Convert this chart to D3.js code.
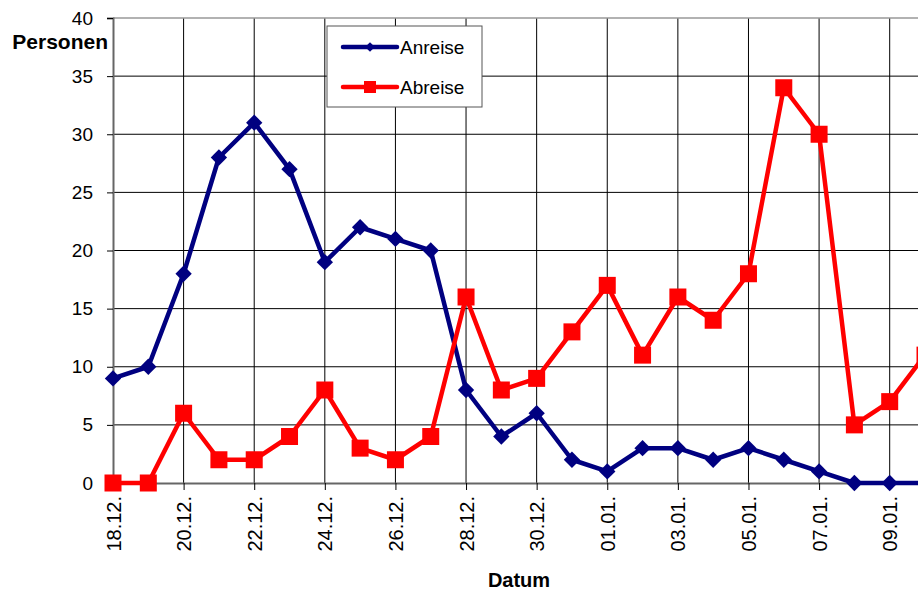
<!DOCTYPE html>
<html>
<head>
<meta charset="utf-8">
<script src="https://cdn.jsdelivr.net/npm/d3@7"></script>
<style>
  body { margin: 0; background: #fff; }
  svg { display: block; font-family: "Liberation Sans", Arial, sans-serif; }
</style>
</head>
<body>
<svg id="chart" width="918" height="592"></svg>
<script>
// data
var dates = ["18.12.", "19.12.", "20.12.", "21.12.", "22.12.", "23.12.", "24.12.", "25.12.",
             "26.12.", "27.12.", "28.12.", "29.12.", "30.12.", "31.12.", "01.01.", "02.01.",
             "03.01.", "04.01.", "05.01.", "06.01.", "07.01.", "08.01.", "09.01.", "10.01."];
var anreise = [9, 10, 18, 28, 31, 27, 19, 22, 21, 20, 8, 4, 6, 2, 1, 3, 3, 2, 3, 2, 1, 0, 0, 0];
var abreise = [0, 0, 6, 2, 2, 4, 8, 3, 2, 4, 16, 8, 9, 13, 17, 11, 16, 14, 18, 34, 30, 5, 7, 11];
var yTicks = [0, 5, 10, 15, 20, 25, 30, 35, 40];
var seriesNames = ["Anreise", "Abreise"];

var margin = {top: 18, left: 113},
    plotBottom = 483,
    plotRight = 925;

var svg = d3.select("#chart");

var x = d3.scaleLinear().domain([0, dates.length - 1]).range([margin.left, plotRight]);
var y = d3.scaleLinear().domain([0, 40]).range([plotBottom, margin.top]);

var labelIdx = dates.map(function(d, i) { return i; }).filter(function(i) { return i % 2 === 0; });

// grid
svg.append("g").selectAll("line.h")
  .data(yTicks.filter(function(t) { return t > 0 && t < 40; }))
  .enter().append("line")
  .attr("x1", margin.left).attr("x2", 918)
  .attr("y1", function(d) { return y(d); }).attr("y2", function(d) { return y(d); })
  .attr("stroke", "#000").attr("stroke-width", 1);

svg.append("g").selectAll("line.v")
  .data(labelIdx.filter(function(i) { return i > 0; }))
  .enter().append("line")
  .attr("x1", function(d) { return x(d); }).attr("x2", function(d) { return x(d); })
  .attr("y1", margin.top).attr("y2", plotBottom)
  .attr("stroke", "#000").attr("stroke-width", 1);

// top border
svg.append("line")
  .attr("x1", margin.left).attr("x2", 918)
  .attr("y1", margin.top).attr("y2", margin.top)
  .attr("stroke", "#999").attr("stroke-width", 1.5);

// y axis
var yAxis = d3.axisLeft(y).tickValues(yTicks).tickSize(6).tickPadding(14);
var gy = svg.append("g")
  .attr("transform", "translate(" + margin.left + ",0)")
  .call(yAxis);
gy.select(".domain").attr("stroke", "#666").attr("stroke-width", 2);
gy.selectAll(".tick line").attr("stroke", "#000");
gy.selectAll(".tick text").attr("font-size", "19px").attr("fill", "#000")
  .style("font-family", "Liberation Sans, Arial, sans-serif");

// x axis
var xAxis = d3.axisBottom(x).tickValues(labelIdx).tickSize(7)
  .tickFormat(function(i) { return dates[i]; });
var gx = svg.append("g")
  .attr("transform", "translate(0," + plotBottom + ")")
  .call(xAxis);
gx.select(".domain").attr("stroke", "#666").attr("stroke-width", 2);
gx.selectAll(".tick line").attr("stroke", "#000");
gx.selectAll(".tick text")
  .attr("font-size", "20px").attr("fill", "#000")
  .style("font-family", "Liberation Sans, Arial, sans-serif")
  .attr("transform", "rotate(-90)")
  .attr("x", -13).attr("y", 0).attr("dy", "0.35em")
  .style("text-anchor", "end");

// axis titles
svg.append("text")
  .attr("x", 108).attr("y", 49)
  .attr("text-anchor", "end")
  .attr("font-size", "21px").attr("font-weight", "bold")
  .text("Personen");

svg.append("text")
  .attr("x", 519).attr("y", 587)
  .attr("text-anchor", "middle")
  .attr("font-size", "20px").attr("font-weight", "bold")
  .text("Datum");

var line = d3.line()
  .x(function(d, i) { return x(i); })
  .y(function(d) { return y(d); });

// Anreise
svg.append("path")
  .datum(anreise)
  .attr("d", line)
  .attr("fill", "none").attr("stroke", "#000080").attr("stroke-width", 4.5)
  .attr("stroke-linejoin", "round");

var diamond = d3.symbol().type(d3.symbolDiamond2).size(170);
svg.append("g").selectAll("path")
  .data(anreise)
  .enter().append("path")
  .attr("d", diamond)
  .attr("transform", function(d, i) { return "translate(" + x(i) + "," + y(d) + ")"; })
  .attr("fill", "#000080");

// Abreise
svg.append("path")
  .datum(abreise)
  .attr("d", line)
  .attr("fill", "none").attr("stroke", "#ff0000").attr("stroke-width", 4.5)
  .attr("stroke-linejoin", "round");

svg.append("g").selectAll("rect")
  .data(abreise)
  .enter().append("rect")
  .attr("x", function(d, i) { return x(i) - 8.5; })
  .attr("y", function(d) { return y(d) - 8.5; })
  .attr("width", 17).attr("height", 17)
  .attr("fill", "#ff0000");

// legend
var legend = svg.append("g").attr("transform", "translate(327,26)");
legend.append("rect")
  .attr("width", 155).attr("height", 81)
  .attr("fill", "#fff").attr("stroke", "#555").attr("stroke-width", 1);

var legColors = ["#000080", "#ff0000"];
seriesNames.forEach(function(name, i) {
  var ly = 21 + i * 40;
  legend.append("line")
    .attr("x1", 16).attr("x2", 70).attr("y1", ly).attr("y2", ly)
    .attr("stroke", legColors[i]).attr("stroke-width", 4.5).attr("stroke-linecap", "round");
  if (i === 0) {
    legend.append("path")
      .attr("d", d3.symbol().type(d3.symbolDiamond2).size(60))
      .attr("transform", "translate(43," + ly + ")")
      .attr("fill", legColors[i]);
  } else {
    legend.append("rect")
      .attr("x", 37).attr("y", ly - 6).attr("width", 12).attr("height", 12)
      .attr("fill", legColors[i]);
  }
  legend.append("text")
    .attr("x", 73).attr("y", ly).attr("dy", "0.35em")
    .attr("font-size", "19px")
    .text(name);
});
</script>
</body>
</html>
